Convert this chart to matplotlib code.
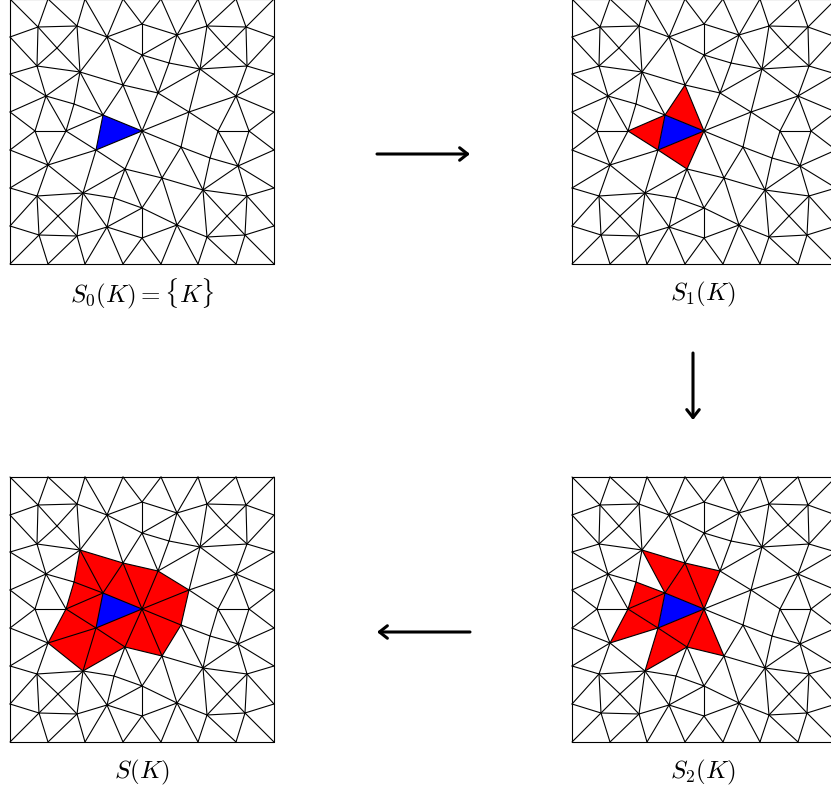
import matplotlib
matplotlib.use('Agg')
import matplotlib.pyplot as plt

W, H = 831, 791

# mesh nodes in pixels
names = ['T0','T1','T2','T3','T4','T5','T6','T7',
         'F0','F1','F2','F3','F4','F5','F6','F7',
         'L1','L2','L3','L4','L5','L6',
         'R1','R2','R3','R4','R5','R6',
         'A1','A2','A3','A4','A5','A6','A7','A8','A9','A10','A11','A12','A13',
         'B1','B2','B3','B4','B5','B6','B7','B8','B9','B10',
         'C1','C2','C3','C4','C5','C6','C8','C9','C10','C11',
         'D1','D2','D3','D4','D5','D7','D9','D10',
         'Xa','Xb','Xc','Xd','Xe','Xf','Xg','P1']
xs = [10,48,85,123,161,198,236,274,
      10,48,85,123,161,198,236,274,
      10,10,10,10,10,10,
      274,274,274,274,274,274,
      38,77,107,142,142,37,80,123,46,103,142,35,66,
      177,207,246,200,247,158,236,189,218,249,
      96,48,125,83,37,142,107,39,77,142,
      181,238,162,203,247,177,207,245,
      57,226,58,114,227,210,169,74]
ys = [-1,-1,-1,-1,-1,-1,-1,-1,
      264,264,264,264,264,264,264,264,
      37,74,112,150,188,226,
      37,74,112,150,188,226,
      27,26,37,24,55,66,72,85,96,115,131,131,131,
      35,26,27,69,66,93,96,112,131,131,
      150,165,169,193,196,208,227,235,236,238,
      147,166,178,190,196,225,237,235,
      48,47,216,198,216,158,63,104]

edges = """T0 T1 T1 T2 T2 T3 T3 T4 T4 T5 T5 T6 T6 T7
F0 F1 F1 F2 F2 F3 F3 F4 F4 F5 F5 F6 F6 F7
T0 L1 L1 L2 L2 L3 L3 L4 L4 L5 L5 L6 L6 F0
T7 R1 R1 R2 R2 R3 R3 R4 R4 R5 R5 R6 R6 F7
A1 T0 A1 T1 A1 A2 A1 L1 A1 A6 A1 Xa Xa A7 A6 Xa Xa A2
A2 T1 A2 T2 A2 A3 A2 A7 A3 T2 A3 T3 A3 A4 A3 A5 A3 A7 A3 A8
A4 T3 A4 T4 A4 A5 A4 B1 A5 B1 A5 B6 A5 Xg Xg B4 B1 Xg Xg B6 A5 A8
A6 L1 A6 L2 A6 A7 A6 A9 A7 A8 A7 A9 A7 P1 P1 A13 A9 P1 P1 A10 A7 A10
A8 A10 A8 A11 A8 B6 A9 L2 A9 L3 A9 A12 A9 A13 A10 A13 A10 A11 A10 C1
A11 B6 A11 B8 A11 D1 A11 D3 A11 C3 A11 C1
A12 A13 A12 L3 A12 L4 A12 C2 A13 C2 A13 C1
B1 T4 B1 T5 B1 B2 B1 B4 B2 T5 B2 T6 B2 B3 B2 Xb Xb B5 B4 Xb Xb B3 B3 T6 B3 T7
B3 R1 B3 B5 B5 R1 B5 R2 B4 B2 B4 B5 B4 B6 B4 B7 B4 B8 B5 B7 B6 B8
B7 R2 B7 R3 B7 B8 B7 B9 B7 B10 B8 B9 B8 D1 B9 B10 B10 R3 B10 R4 B10 D2
B9 Xf Xf D4 Xf D2 D1 Xf B9 D2
C1 C2 C1 C3 C1 C4 C2 C4 C2 C5 C2 L4 C2 L5
C3 C4 C3 Xd Xd C8 C4 Xd Xd C6 C3 C6 C3 D3
C4 C5 C4 C8 C4 C10 C4 Xc Xc C9 C5 Xc Xc C10
C5 L5 C5 L6 C5 C9 C9 C10 C9 L6 C9 F0 C9 F1 C10 F1 C10 F2 C10 C8
C8 F2 C8 F3 C8 C11 C8 C6 C6 C11 C11 F3 C11 F4 C6 D3 C6 D7 C11 D7
D1 D3 D1 D4 D3 D4 D3 D7 D4 D7 D7 D9 D7 F4 D7 F5
D2 D4 D2 D5 D2 R4 D2 R5 D4 D5 D4 D9 D4 Xe Xe D10 D5 Xe Xe D9
D5 R5 D5 R6 D5 D10 D9 D10 D10 R6 D10 F7 D10 F6 D9 F6 D9 F5""".split()

blue = ['A10', 'A11', 'C1']

s1_tris = [['A8','A10','A11'], ['A13','A10','C1'], ['C3','C1','A11']]
s2_tris = s1_tris + [['A7','A8','A10'], ['A8','B6','A11'], ['P1','A13','A10'],
                     ['C2','A13','C1'], ['C4','C1','C3'], ['C3','A11','D3']]
s_poly = ['A7','A8','B6','B8','D1','D3','C3','C4','C2','A13','P1']

labels = [r'$S_0(K)=\{K\}$', r'$S_1(K)$', r'$S_2(K)$', r'$S(K)$']
# panel left and top in pixels
panel_pos = [(10, -1), (572, -1), (572, 477), (10, 477)]
label_pos = [(142, 294), (703, 294), (703, 772), (142, 772)]
red_sets = [[], s1_tris, s2_tris, [s_poly]]

plt.rcParams['mathtext.fontset'] = 'cm'
fig = plt.figure(figsize=(W / 100, H / 100), dpi=100)

px = dict(zip(names, xs))
py = dict(zip(names, ys))


def poly(ax, nodes, color):
    ax.fill([px[n] for n in nodes], [py[n] for n in nodes], color=color, lw=0, zorder=1, clip_on=False)


for pos, reds in zip(panel_pos, red_sets):
    ax = fig.add_axes([pos[0] / W, 1 - (pos[1] + 265) / H, 264 / W, 265 / H])
    ax.set_xlim(10, 274)
    ax.set_ylim(264, -1)
    ax.axis('off')
    for nodes in reds:
        poly(ax, nodes, '#ff0000')
    poly(ax, blue, '#0000ff')
    for a, b in zip(edges[::2], edges[1::2]):
        ax.plot([px[a], px[b]], [py[a], py[b]], color='black', lw=0.8, zorder=2, clip_on=False,
                solid_capstyle='round')

# overlay in figure pixels for the arrows and captions
over = fig.add_axes([0, 0, 1, 1])
over.set_xlim(0, W)
over.set_ylim(H, 0)
over.axis('off')
over.patch.set_alpha(0)

arrow_from = [(377, 154), (693, 353), (470, 632)]
arrow_to = [(470, 154), (693, 420), (377, 632)]
for a, b in zip(arrow_from, arrow_to):
    over.annotate('', xy=b, xytext=a,
                  arrowprops=dict(arrowstyle='->,head_length=0.38,head_width=0.3', color='black', lw=2.2,
                                  shrinkA=0, shrinkB=0, mutation_scale=15))

for txt, p in zip(labels, label_pos):
    over.text(p[0], p[1], txt, ha='center', va='center', fontsize=18, color='black')

fig.savefig('out.png', dpi=100)
